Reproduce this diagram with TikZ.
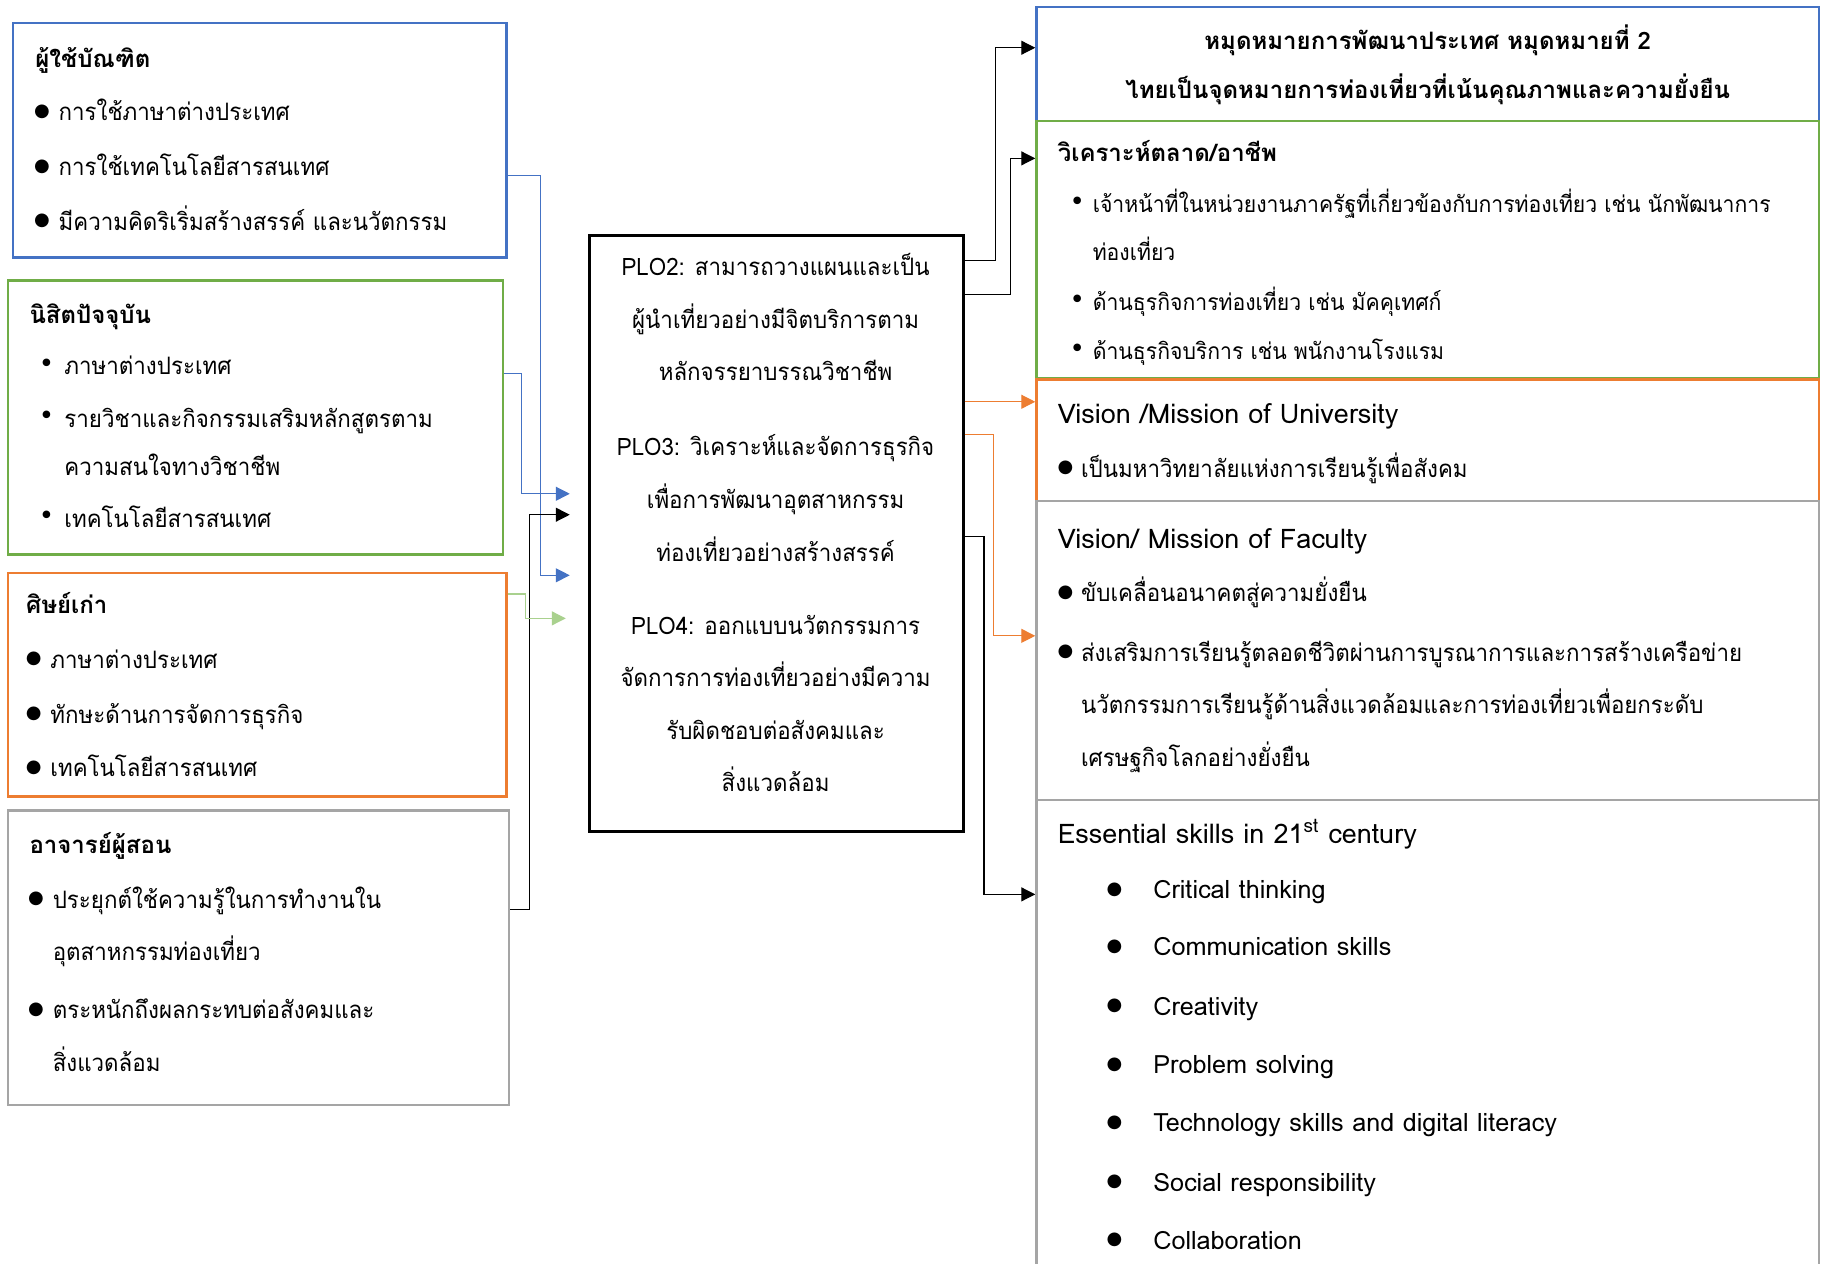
\documentclass[tikz,border=0pt]{standalone}
\usepackage{fontspec}
\usetikzlibrary{arrows.meta}
\usetikzlibrary{fit}
\usepackage{xcolor}
\newfontfamily\thai[Script=Thai, UprightFeatures={FakeStretch=0.93}]{Loma}
\newfontfamily\latin{Loma}
\newfontfamily\sym{DejaVu Sans}
\newcommand{\bodysize}{\fontsize{12}{14}\selectfont}

\begin{document}
\begin{tikzpicture}[x=0.5823pt, y=-0.5823pt]

    % style
    \definecolor{myblue}{RGB}{68, 114, 196}
    \definecolor{mygreen}{RGB}{112, 173, 71}
    \definecolor{myorange}{RGB}{237, 125, 49}
    \definecolor{mygray}{RGB}{165, 165, 165}
    \definecolor{mylightgreen}{RGB}{169, 209, 142}
    \tikzset{
        box/.style={draw, line width=1.2pt, inner sep=0pt},
        head/.style={anchor=base west, inner sep=0pt, yshift=-4.6pt, font=\thai\bodysize\bfseries},
        item/.style={anchor=base west, inner sep=0pt, yshift=-4.6pt, font=\thai\bodysize},
        mid/.style={anchor=base, inner sep=0pt, yshift=-4.6pt, font=\thai\bodysize},
        enghead/.style={anchor=base west, inner sep=0pt, yshift=-4.6pt, font=\latin\fontsize{13.5}{15}\selectfont},
        engitem/.style={anchor=base west, inner sep=0pt, yshift=-4.6pt, font=\latin\fontsize{12.6}{14}\selectfont},
        bigdot/.style={inner sep=0pt, font=\sym\fontsize{9}{9}\selectfont},
        smalldot/.style={inner sep=0pt, font=\sym\fontsize{13}{13}\selectfont},
        link/.style={line width=0.6pt, -{Triangle[length=7pt, width=7pt]}}
    }

    % page
    \useasboundingbox [fill=white] (0,0) rectangle (1568,1085);

    % Left hand boxes: stakeholders
    \node [box, draw=myblue, fit={(11,20) (435,221)}] (grad) {};
    \node [head] (grad-title) at (30,50) {ผู้ใช้บัณฑิต};
    \foreach \y/\txt [count=\i] in {96/การใช้ภาษาต่างประเทศ, 143/การใช้เทคโนโลยีสารสนเทศ, 190/มีความคิดริเริ่มสร้างสรรค์ และนวัตกรรม}
    {
        \node [bigdot] (grad-dot\i) at (36,\y) {●};
        \node [item] (grad-\i) at (50,\y) {\txt};
    }

    \node [box, draw=mygreen, fit={(7,241) (432,476)}] (student) {};
    \node [head] (student-title) at (25,270) {นิสิตปัจจุบัน};
    \foreach \y [count=\i] in {314, 359, 445}
        \node [smalldot] (student-dot\i) at (40,\y) {•};
    \foreach \y/\txt [count=\i] in {314/ภาษาต่างประเทศ, 359/รายวิชาและกิจกรรมเสริมหลักสูตรตาม, 400/ความสนใจทางวิชาชีพ, 445/เทคโนโลยีสารสนเทศ}
        \node [item] (student-\i) at (55,\y) {\txt};

    \node [box, draw=myorange, fit={(7,492) (435,684)}] (alumni) {};
    \node [head] (alumni-title) at (22,519) {ศิษย์เก่า};
    \foreach \y/\txt [count=\i] in {566/ภาษาต่างประเทศ, 613/ทักษะด้านการจัดการธุรกิจ, 659/เทคโนโลยีสารสนเทศ}
    {
        \node [bigdot] (alumni-dot\i) at (29,\y) {●};
        \node [item] (alumni-\i) at (43,\y) {\txt};
    }

    \node [box, draw=mygray, fit={(7,696) (437,949)}] (teacher) {};
    \node [head] (teacher-title) at (25,725) {อาจารย์ผู้สอน};
    \foreach \y [count=\i] in {772, 867}
        \node [bigdot] (teacher-dot\i) at (31,\y) {●};
    \foreach \y/\txt [count=\i] in {772/ประยุกต์ใช้ความรู้ในการทำงานใน, 817/อุตสาหกรรมท่องเที่ยว, 867/ตระหนักถึงผลกระทบต่อสังคมและ, 912/สิ่งแวดล้อม}
        \node [item] (teacher-\i) at (45,\y) {\txt};

    % Center box: PLOs
    \node [box, draw=black, line width=1.5pt, fit={(506,202) (827,714)}] (plo) {};
    \foreach \y/\txt [count=\i] in {229/PLO2: สามารถวางแผนและเป็น, 274/ผู้นำเที่ยวอย่างมีจิตบริการตาม, 319/หลักจรรยาบรรณวิชาชีพ, 383/PLO3: วิเคราะห์และจัดการธุรกิจ, 429/เพื่อการพัฒนาอุตสาหกรรม, 474/ท่องเที่ยวอย่างสร้างสรรค์, 537/PLO4: ออกแบบนวัตกรรมการ, 582/จัดการการท่องเที่ยวอย่างมีความ, 627/รับผิดชอบต่อสังคมและ, 672/สิ่งแวดล้อม}
        \node [mid] (plo-\i) at (666,\y) {\txt};

    % Right hand boxes: goals and visions
    \node [box, draw=myblue, fit={(890,6) (1562,104)}] (goal) {};
    \node [mid, font=\thai\bodysize\bfseries] (goal-1) at (1226,35) {หมุดหมายการพัฒนาประเทศ หมุดหมายที่ 2};
    \node [mid, font=\thai\bodysize\bfseries] (goal-2) at (1226,77) {ไทยเป็นจุดหมายการท่องเที่ยวที่เน้นคุณภาพและความยั่งยืน};

    \node [box, draw=mygreen, fit={(890,104) (1562,325)}] (market) {};
    \node [head] (market-title) at (908,131) {วิเคราะห์ตลาด/อาชีพ};
    \foreach \y [count=\i] in {175, 259, 301}
        \node [smalldot] (market-dot\i) at (925,\y) {•};
    \foreach \y/\txt [count=\i] in {175/เจ้าหน้าที่ในหน่วยงานภาครัฐที่เกี่ยวข้องกับการท่องเที่ยว เช่น นักพัฒนาการ, 216/ท่องเที่ยว, 259/ด้านธุรกิจการท่องเที่ยว เช่น มัคคุเทศก์, 301/ด้านธุรกิจบริการ เช่น พนักงานโรงแรม}
        \node [item, font=\thai\fontsize{11.4}{14}\selectfont] (market-\i) at (938,\y) {\txt};

    \node [box, draw=myorange, fit={(890,326) (1562,430)}] (univ) {};
    \node [enghead] (univ-title) at (908,356) {Vision /Mission of University};
    \node [bigdot] (univ-dot1) at (915,402) {●};
    \node [item] (univ-1) at (928,402) {เป็นมหาวิทยาลัยแห่งการเรียนรู้เพื่อสังคม};

    \node [box, draw=mygray, fit={(890,430) (1562,687)}] (faculty) {};
    \node [enghead] (faculty-title) at (908,463) {Vision/ Mission of Faculty};
    \foreach \y [count=\i] in {509, 560}
        \node [bigdot] (faculty-dot\i) at (915,\y) {●};
    \foreach \y/\txt [count=\i] in {509/ขับเคลื่อนอนาคตสู่ความยั่งยืน, 560/ส่งเสริมการเรียนรู้ตลอดชีวิตผ่านการบูรณาการและการสร้างเครือข่าย, 605/นวัตกรรมการเรียนรู้ด้านสิ่งแวดล้อมและการท่องเที่ยวเพื่อยกระดับ, 650/เศรษฐกิจโลกอย่างยั่งยืน}
        \node [item] (faculty-\i) at (928,\y) {\txt};

    \node [box, draw=mygray, fit={(890,687) (1562,1100)}] (skill) {}; % runs off the page
    \node [enghead] (skill-title) at (908,716) {Essential skills in 21\textsuperscript{st} century};
    \foreach \y/\txt [count=\i] in {764/Critical thinking, 813/Communication skills, 864/Creativity, 914/Problem solving, 964/Technology skills and digital literacy, 1015/Social responsibility, 1065/Collaboration}
    {
        \node [bigdot] (skill-dot\i) at (957,\y) {●};
        \node [engitem] (skill-\i) at (990,\y) {\txt};
    }

    % connectors into the PLO box (they stop short of it)
    \draw [link, draw=myblue, -{Triangle[length=7pt, width=7pt, fill=myblue]}, shorten >=9pt] (grad.east |- 0,151) -| (464,494) -- (plo.west |- 0,494);
    \draw [link, draw=myblue, -{Triangle[length=7pt, width=7pt, fill=myblue]}, shorten >=9pt] (student.east |- 0,321) -| (448,424) -- (plo.west |- 0,424);
    \draw [link, draw=black, shorten >=9pt] (teacher.east |- 0,781) -| (455,442) -- (plo.west |- 0,442);
    \draw [link, draw=mylightgreen, -{Triangle[length=7pt, width=7pt, fill=mylightgreen]}, shorten >=11pt] (alumni.east |- 0,510) -| (451,531) -- (plo.west |- 0,531);

    % connectors out of the PLO box
    \draw [link] (plo.east |- 0,224) -| (855,41) -- (goal.west |- 0,41);
    \draw [link] (plo.east |- 0,253) -| (868,136) -- (market.west |- 0,136);
    \draw [link, draw=myorange, -{Triangle[length=7pt, width=7pt, fill=myorange]}] (plo.east |- 0,345) -- (univ.west |- 0,345);
    \draw [link, draw=myorange, -{Triangle[length=7pt, width=7pt, fill=myorange]}] (plo.east |- 0,373) -| (853,546) -- (faculty.west |- 0,546);
    \draw [link] (plo.east |- 0,461) -| (845,768) -- (skill.west |- 0,768);

\end{tikzpicture}
\end{document}
